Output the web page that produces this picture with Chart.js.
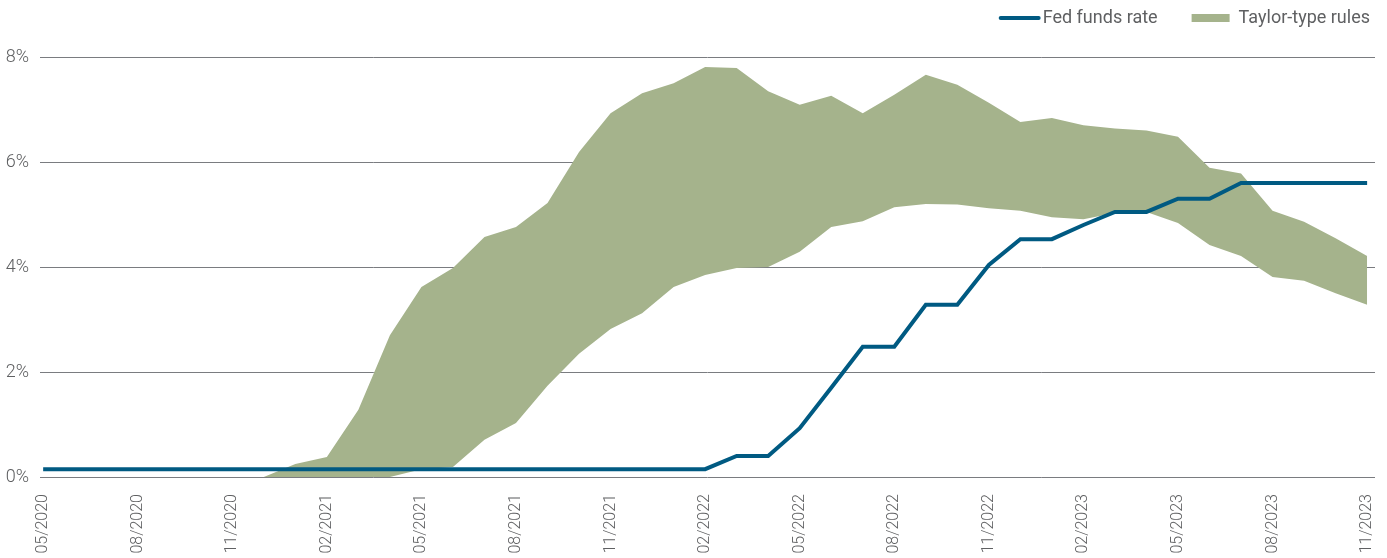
<!DOCTYPE html>
<html>
<head>
<meta charset="utf-8">
<title>Fed funds rate vs Taylor-type rules</title>
<script src="https://cdn.jsdelivr.net/npm/chart.js@4/dist/chart.umd.min.js"></script>
<style>
  html, body { margin: 0; padding: 0; background: #fff; overflow: hidden; }
  #wrap { width: 1387px; height: 558px; position: relative; }
</style>
</head>
<body>
<div id="wrap"><canvas id="chart"></canvas></div>
<script>
// monthly, 05/2020 .. 11/2023
const months = [
  "05/2020", "06/2020", "07/2020", "08/2020", "09/2020", "10/2020", "11/2020", "12/2020",
  "01/2021", "02/2021", "03/2021", "04/2021", "05/2021", "06/2021", "07/2021", "08/2021",
  "09/2021", "10/2021", "11/2021", "12/2021", "01/2022", "02/2022", "03/2022", "04/2022",
  "05/2022", "06/2022", "07/2022", "08/2022", "09/2022", "10/2022", "11/2022", "12/2022",
  "01/2023", "02/2023", "03/2023", "04/2023", "05/2023", "06/2023", "07/2023", "08/2023",
  "09/2023", "10/2023", "11/2023"
];

// fed funds rate, %
const fedFunds = [
  0.15, 0.15, 0.15, 0.15, 0.15, 0.15, 0.15, 0.15,
  0.15, 0.15, 0.15, 0.15, 0.15, 0.15, 0.15, 0.15,
  0.15, 0.15, 0.15, 0.15, 0.15, 0.15, 0.40, 0.40,
  0.93, 1.70, 2.48, 2.48, 3.28, 3.28, 4.04, 4.53,
  4.53, 4.80, 5.05, 5.05, 5.30, 5.30, 5.60, 5.60,
  5.60, 5.60, 5.60
];

// range of taylor-type rule prescriptions, %
const taylorLow = [
  null, null, null, null, null, null, null, 0.00,
  0.00, 0.00, 0.00, 0.00, 0.15, 0.19, 0.71, 1.03,
  1.74, 2.35, 2.82, 3.12, 3.62, 3.85, 3.98, 4.00,
  4.29, 4.76, 4.87, 5.14, 5.20, 5.19, 5.12, 5.07,
  4.95, 4.91, 5.03, 5.05, 4.84, 4.42, 4.21, 3.81,
  3.74, 3.50, 3.28
];
const taylorHigh = [
  null, null, null, null, null, null, null, 0.00,
  0.25, 0.38, 1.28, 2.70, 3.62, 3.98, 4.57, 4.76,
  5.22, 6.19, 6.93, 7.31, 7.50, 7.81, 7.79, 7.35,
  7.09, 7.26, 6.93, 7.28, 7.66, 7.47, 7.13, 6.76,
  6.84, 6.70, 6.64, 6.60, 6.48, 5.89, 5.78, 5.07,
  4.86, 4.55, 4.21
];

const yTicks = [0, 2, 4, 6, 8];

const BLUE = "#005a82";
const GREEN = "#a5b38c";
const TEXT = "#5f6062";
const FONT = "Roboto, 'Liberation Sans', sans-serif";

const pts = arr => arr.map((v, i) => ({ x: i, y: v }));

// simple legend in the top right corner, drawn on the canvas
const cornerLegend = {
  id: "cornerLegend",
  afterDraw(chart) {
    const ctx = chart.ctx;
    const y = 18;
    const right = chart.width - 17;
    ctx.save();
    ctx.font = "18px " + FONT;
    ctx.textBaseline = "middle";
    ctx.fillStyle = TEXT;
    const t2 = "Taylor-type rules";
    const t1 = "Fed funds rate";
    const w2 = ctx.measureText(t2).width;
    const w1 = ctx.measureText(t1).width;
    const x2 = right - w2;
    ctx.fillText(t2, x2, y);
    ctx.fillStyle = GREEN;
    ctx.fillRect(x2 - 47, y - 4, 38, 8);
    const x1 = x2 - 47 - 34 - w1;
    ctx.fillStyle = TEXT;
    ctx.fillText(t1, x1, y);
    ctx.strokeStyle = BLUE;
    ctx.lineWidth = 4;
    ctx.lineCap = "round";
    ctx.beginPath();
    ctx.moveTo(x1 - 42, y);
    ctx.lineTo(x1 - 4, y);
    ctx.stroke();
    ctx.restore();
  }
};

new Chart(document.getElementById("chart"), {
  type: "line",
  data: {
    datasets: [
      {
        label: "Fed funds rate",
        data: pts(fedFunds),
        borderColor: BLUE,
        borderWidth: 4,
        pointRadius: 0,
        tension: 0,
        fill: false
      },
      {
        label: "taylor low",
        data: pts(taylorLow),
        borderWidth: 0,
        borderColor: "transparent",
        pointRadius: 0,
        tension: 0,
        fill: false
      },
      {
        label: "Taylor-type rules",
        data: pts(taylorHigh),
        borderWidth: 0,
        borderColor: "transparent",
        backgroundColor: GREEN,
        pointRadius: 0,
        tension: 0,
        fill: "-1"
      }
    ]
  },
  options: {
    responsive: true,
    maintainAspectRatio: false,
    animation: false,
    layout: { padding: { top: 57, right: 0, left: 0, bottom: 0 } },
    plugins: {
      legend: { display: false },
      tooltip: { enabled: false }
    },
    scales: {
      x: {
        type: "linear",
        min: -0.1,
        max: 42.25,
        grid: { display: false },
        border: { display: false },
        afterBuildTicks: s => {
          s.ticks = months.map((m, i) => ({ value: i })).filter(t => t.value % 3 === 0);
        },
        afterFit: s => { s.height = 81; s.paddingRight = 12; },
        ticks: {
          autoSkip: false,
          minRotation: 90,
          maxRotation: 90,
          padding: 9,
          color: TEXT,
          font: { family: FONT, size: 16, weight: "300" },
          callback: v => months[v]
        }
      },
      y: {
        min: 0,
        max: 8,
        afterBuildTicks: s => { s.ticks = yTicks.map(v => ({ value: v })); },
        afterFit: s => { s.width = 40; },
        grid: { color: "#7a7c80", lineWidth: 1, drawTicks: false },
        border: { display: false },
        ticks: {
          padding: 11,
          color: TEXT,
          font: { family: FONT, size: 18, weight: "300" },
          callback: v => v + "%"
        }
      }
    }
  },
  plugins: [cornerLegend]
});
</script>
</body>
</html>
